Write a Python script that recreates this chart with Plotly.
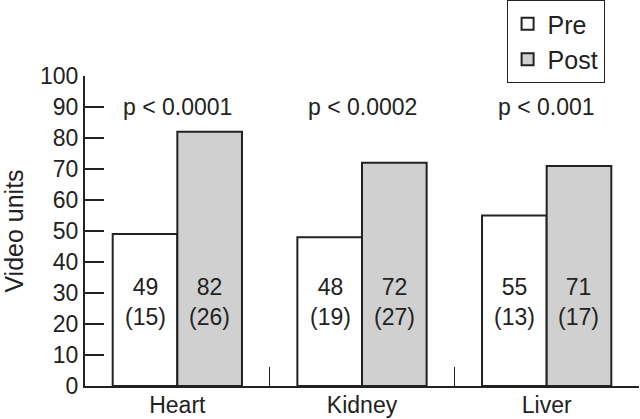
import plotly.graph_objects as go

categories = ["Heart", "Kidney", "Liver"]
pre_values = [49, 48, 55]
post_values = [82, 72, 71]
pre_sd = [15, 19, 13]
post_sd = [26, 27, 17]
p_labels = ["p < 0.0001", "p < 0.0002", "p < 0.001"]
y_ticks = [0, 10, 20, 30, 40, 50, 60, 70, 80, 90, 100]

FONT = "Liberation Sans, Arial, sans-serif"
DARK = "#222222"

fig = go.Figure()
fig.add_trace(go.Bar(
    x=categories, y=pre_values, name="Pre",
    marker=dict(color="white", line=dict(color=DARK, width=2)),
    textposition="none",
))
fig.add_trace(go.Bar(
    x=categories, y=post_values, name="Post",
    marker=dict(color="#d0d0d0", line=dict(color=DARK, width=2)),
    textposition="none",
))

# value labels inside bars (placed with the axis scales)
for i, c in enumerate(categories):
    fig.add_annotation(x=c, y=27, xshift=-32, text=f"{pre_values[i]}<br>({pre_sd[i]})",
                       showarrow=False, font=dict(size=23, color=DARK, family=FONT))
    fig.add_annotation(x=c, y=27, xshift=32, text=f"{post_values[i]}<br>({post_sd[i]})",
                       showarrow=False, font=dict(size=23, color=DARK, family=FONT))
    fig.add_annotation(x=c, y=90, text=p_labels[i], showarrow=False,
                       font=dict(size=23, color=DARK, family=FONT))

fig.update_layout(
    width=640, height=419,
    margin=dict(l=85, r=1, t=76, b=33, autoexpand=False),
    paper_bgcolor="white", plot_bgcolor="white",
    barmode="group", bargap=0.30, bargroupgap=0,
    font=dict(family=FONT, size=23, color=DARK),
    showlegend=True,
    legend=dict(x=0.761, y=1.245, xanchor="left", yanchor="top",
                bordercolor=DARK, borderwidth=1, bgcolor="white",
                font=dict(size=25, family=FONT, color=DARK),
                tracegroupgap=0, itemwidth=30),
    xaxis=dict(type="category", range=[-0.5, 2.5], showgrid=False,
               showline=True, linecolor=DARK, linewidth=2,
               ticks="inside", tickson="boundaries", ticklen=19, tickwidth=1,
               tickcolor=DARK, tickfont=dict(size=23, family=FONT, color=DARK),
               ticklabelstandoff=-3,
               automargin=False, fixedrange=True),
    yaxis=dict(range=[0, 100], tickvals=y_ticks, showgrid=False, zeroline=False,
               showline=True, linecolor=DARK, linewidth=2,
               ticks="inside", ticklen=19, tickwidth=2, tickcolor=DARK,
               tickfont=dict(size=23, family=FONT, color=DARK),
               title=dict(text="Video units", font=dict(size=25, family=FONT, color=DARK),
                          standoff=17),
               automargin=False, fixedrange=True),
)

fig.write_html("out.html", config={"displayModeBar": False},
               post_script="document.body.style.margin='0';")
